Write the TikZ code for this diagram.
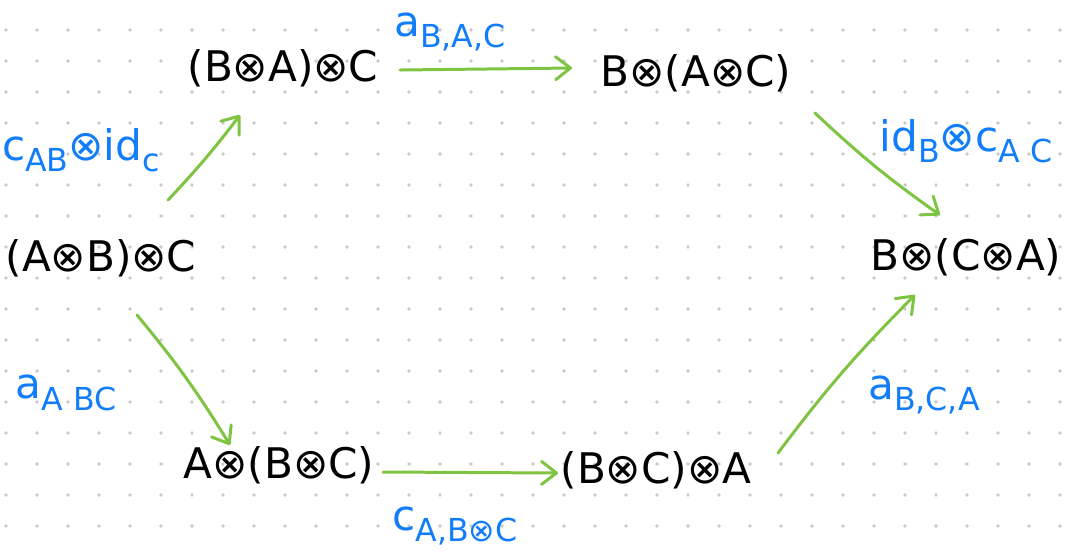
\documentclass[tikz,border=0pt]{standalone}
\usepackage{fontspec}
\setmainfont{DejaVu Sans}
\usepackage{xcolor}
\usetikzlibrary{arrows.meta}

\definecolor{arrgreen}{RGB}{126,195,65}
\definecolor{lblblue}{RGB}{18,125,250}
\definecolor{dotgray}{RGB}{200,200,200}

\newcommand\lowidx[1]{\raisebox{-0.5ex}{\fontsize{18}{18}\selectfont #1}}

\tikzset{
  obj/.style={inner sep=0pt, outer sep=0pt, font=\fontsize{24}{24}\selectfont},
  lbl/.style={inner sep=0pt, text=lblblue, font=\fontsize{24}{24}\selectfont},
  arr/.style={draw=arrgreen, line width=1.7pt, line cap=round,
    -{Straight Barb[length=3mm, width=4.6mm, round]}}
}

\begin{document}
\begin{tikzpicture}[x=0.02cm, y=-0.02cm]
            \useasboundingbox (0,0) rectangle (1072,556);

            % Dot grid
            \foreach \x in {6,37,...,1072}
              \foreach \y in {30,61,...,556}
                \fill[dotgray] (\x,\y) circle (1.1pt);

            % Objects
            \node[obj] (abc)  at (101,258) {(A⊗B)⊗C};
            \node[obj] (bac)  at (283,68)  {(B⊗A)⊗C};
            \node[obj] (bac2) at (696,73)  {B⊗(A⊗C)};
            \node[obj] (bca)  at (966,257) {B⊗(C⊗A)};
            \node[obj] (abc2) at (279,465) {A⊗(B⊗C)};
            \node[obj] (bca2) at (656,470) {(B⊗C)⊗A};

            % Arrows
            \draw[arr] ([shift={(67,-58)}]abc.center) to[bend right=3] ([shift={(-43,47)}]bac.center);
            \draw[arr] ([shift={(117,2)}]bac.center) -- ([shift={(-124,-5)}]bac2.center);
            \draw[arr] ([shift={(119,40)}]bac2.center) to[bend right=4] ([shift={(-26,-42)}]bca.center);
            \draw[arr] ([shift={(36,57)}]abc.center) to[bend left=4] ([shift={(-49,-20)}]abc2.center);
            \draw[arr] ([shift={(104,7)}]abc2.center) -- ([shift={(-98,3)}]bca2.center);
            \draw[arr] ([shift={(122,-17)}]bca2.center) to[bend left=4] ([shift={(-51,38)}]bca.center);

            % Labels
            \node[lbl] (swapid) at (81,150)  {c\lowidx{AB}⊗id\lowidx{c}};
            \node[lbl] (assocbac) at (450,32) {a\lowidx{B,A,C}};
            \node[lbl] (idswap) at (966,141) {id\lowidx{B}⊗c\lowidx{A C}};
            \node[lbl] (assocabc) at (66,393) {a\lowidx{A BC}};
            \node[lbl] (swapabc) at (455,526) {c\lowidx{A,B⊗C}};
            \node[lbl] (assocbca) at (924,395) {a\lowidx{B,C,A}};
        \end{tikzpicture}
\end{document}
